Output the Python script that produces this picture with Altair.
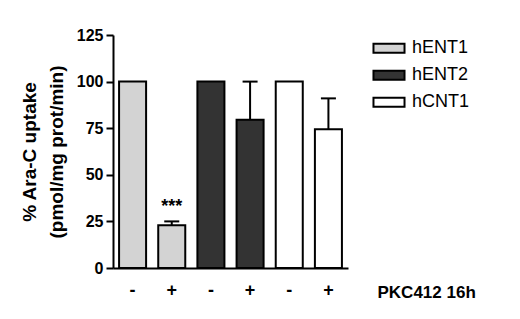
import altair as alt
import pandas as pd

# ---- data ----
transporters = ["hENT1", "hENT1", "hENT2", "hENT2", "hCNT1", "hCNT1"]
pkc412 = ["-", "+", "-", "+", "-", "+"]
uptake = [100, 23, 100, 79.5, 100, 74.5]
sem = [0, 2, 0, 20.5, 0, 16.5]
signif = ["", "***", "", "", "", ""]
legend_order = ["hENT1", "hENT2", "hCNT1"]
fill_colors = ["#d3d3d3", "#333333", "#ffffff"]
y_ticks = [0, 25, 50, 75, 100, 125]

df = pd.DataFrame({
    "transporter": transporters,
    "pkc": pkc412,
    "uptake": uptake,
    "sem": sem,
    "signif": signif,
})
df["key"] = df["transporter"] + "|" + df["pkc"]
df["top"] = df["uptake"] + df["sem"]
order = list(df["key"])

FONT = "Liberation Sans"

x_axis = alt.Axis(
    title="PKC412 16h",
    labelExpr="split(datum.label, '|')[1]",
    titleX=264,
    titleY=24,
    titleAlign="left",
    titleBaseline="middle",
)
x_scale = alt.Scale(paddingInner=0.31, paddingOuter=0.155)

y_axis = alt.Axis(
    values=y_ticks,
    title=["% Ara-C uptake", "(pmol/mg prot/min)"],
    titleX=-74,
    titleY=116.5,
    titleAngle=270,
    titleAlign="center",
    titleBaseline="bottom",
)
y_scale = alt.Scale(domain=[0, 125], nice=False)

X = alt.X("key:N", sort=order, scale=x_scale, axis=x_axis)

base = alt.Chart(df)

bars = base.mark_bar(stroke="black", strokeWidth=2).encode(
    x=X,
    y=alt.Y("uptake:Q", scale=y_scale, axis=y_axis),
    fill=alt.Fill(
        "transporter:N",
        scale=alt.Scale(domain=legend_order, range=fill_colors),
        legend=alt.Legend(
            title=None,
            orient="none",
            legendX=259,
            legendY=0,
            padding=0,
            symbolType="M-0.97,-0.28L0.97,-0.28L0.97,0.28L-0.97,0.28Z",
            symbolSize=1024,
            symbolStrokeColor="black",
            symbolStrokeWidth=2,
            symbolOpacity=1,
            clipHeight=26.5,
            rowPadding=0,
            labelFont=FONT,
            labelFontSize=18,
            labelColor="black",
            labelOffset=6,
        ),
    ),
)

err = base.transform_filter("datum.sem > 0")

err_rule = err.mark_rule(color="black", strokeWidth=2).encode(
    x=X,
    y=alt.Y("uptake:Q", scale=y_scale, axis=y_axis),
    y2="top:Q",
)
err_cap = err.mark_tick(color="black", thickness=2, size=15, orient="horizontal", opacity=1).encode(
    x=X,
    y=alt.Y("top:Q", scale=y_scale, axis=y_axis),
)

stars = base.transform_filter("datum.signif != ''").mark_text(
    font=FONT, fontSize=18, fontWeight="bold", color="black", baseline="middle", dy=-14
).encode(
    x=X,
    y=alt.Y("top:Q", scale=y_scale, axis=y_axis),
    text="signif:N",
)

chart = (
    alt.layer(bars, err_rule, err_cap, stars)
    .properties(
        width=235,
        height=233,
        autosize=alt.AutoSizeParams(type="none"),
        padding={"left": 105, "top": 27, "right": 160, "bottom": 43},
        background="white",
    )
    .configure_view(stroke=None)
    .configure_axisX(
        labelAngle=0,
        ticks=False,
        grid=False,
        domainWidth=2,
        domainColor="black",
        labelFont=FONT,
        labelFontSize=18,
        labelFontWeight="bold",
        labelColor="black",
        labelPadding=13,
        titleFont=FONT,
        titleFontSize=17,
        titleFontWeight="bold",
        titleColor="black",
    )
    .configure_axisY(
        grid=False,
        tickSize=7,
        tickWidth=2,
        tickColor="black",
        domainWidth=2,
        domainColor="black",
        labelFont=FONT,
        labelFontSize=16,
        labelFontWeight="bold",
        labelColor="black",
        labelPadding=3,
        titleFont=FONT,
        titleFontSize=19,
        titleFontWeight="bold",
        titleColor="black",
        titleLineHeight=27,
    )
)

chart.save("out.html", embed_options={"renderer": "svg", "actions": False})
